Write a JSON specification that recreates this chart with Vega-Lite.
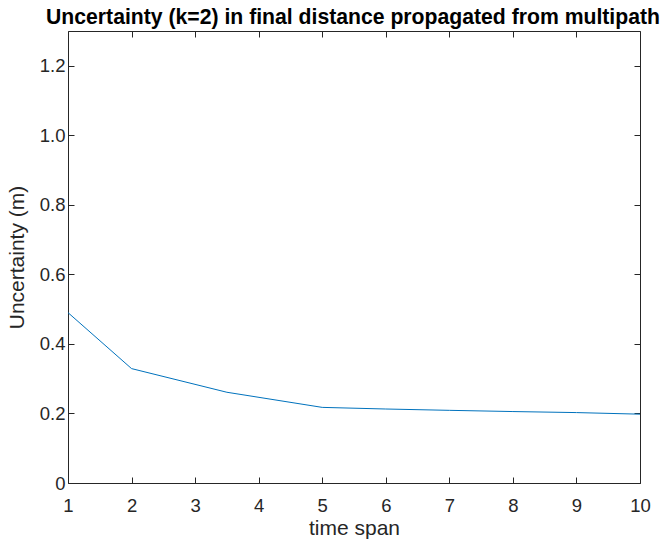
{
  "$schema": "https://vega.github.io/schema/vega-lite/v6.json",
  "width": 572,
  "height": 452,
  "autosize": {"type": "none"},
  "padding": {"left": 68, "top": 31, "right": 22, "bottom": 62},
  "background": "white",
  "config": {
    "view": {"stroke": "#262626", "strokeWidth": 1},
    "font": "Liberation Sans",
    "axis": {
      "grid": false,
      "domain": false,
      "tickColor": "#262626",
      "tickSize": -6,
      "labelColor": "#262626",
      "labelFont": "Liberation Sans",
      "labelFontSize": 18.5,
      "titleFont": "Liberation Sans",
      "titleFontSize": 21,
      "titleFontWeight": "normal",
      "titleColor": "#262626"
    }
  },
  "title": {
    "text": "Uncertainty (k=2) in final distance propagated from multipath",
    "font": "Liberation Sans",
    "fontSize": 21.2,
    "fontWeight": "bold",
    "color": "black",
    "anchor": "middle",
    "offset": 2,
    "dx": -1
  },
  "data": {
    "values": [
      {"span": 1, "u": 0.49},
      {"span": 2, "u": 0.329},
      {"span": 3.5, "u": 0.261},
      {"span": 5, "u": 0.2175},
      {"span": 6, "u": 0.2128},
      {"span": 7, "u": 0.209},
      {"span": 8, "u": 0.2055},
      {"span": 9, "u": 0.2025},
      {"span": 10, "u": 0.198}
    ]
  },
  "layer": [
    {
      "mark": {"type": "line", "color": "#0072BD", "strokeWidth": 1, "clip": true},
      "encoding": {
        "x": {
          "field": "span", "type": "quantitative",
          "scale": {"domain": [1, 10], "nice": false, "zero": false},
          "axis": {"orient": "bottom", "values": [1,2,3,4,5,6,7,8,9,10], "title": "time span", "labelPadding": 19, "titlePadding": 3, "labelFlush": false}
        },
        "y": {
          "field": "u", "type": "quantitative",
          "scale": {"domain": [0, 1.3], "nice": false},
          "axis": {"orient": "left", "values": [0, 0.2, 0.4, 0.6, 0.8, 1.0, 1.2], "labelExpr": "datum.value == 0 ? '0' : format(datum.value, '.1f')", "title": "Uncertainty (m)", "labelPadding": 9, "titlePadding": 12}
        }
      }
    },
    {
      "mark": {"type": "line", "opacity": 0},
      "encoding": {
        "x": {
          "field": "span", "type": "quantitative",
          "axis": {"orient": "top", "values": [1,2,3,4,5,6,7,8,9,10], "labels": false, "title": null}
        },
        "y": {
          "field": "u", "type": "quantitative",
          "axis": {"orient": "right", "values": [0, 0.2, 0.4, 0.6, 0.8, 1.0, 1.2], "labels": false, "title": null}
        }
      }
    }
  ],
  "resolve": {"axis": {"x": "independent", "y": "independent"}}
}
